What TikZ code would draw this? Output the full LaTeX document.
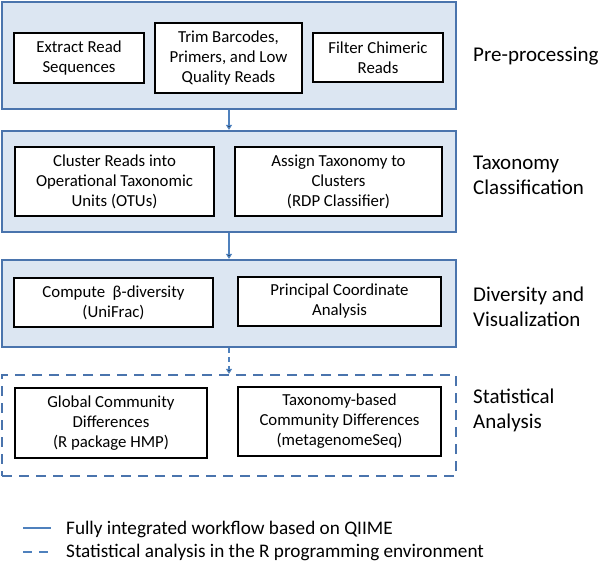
\documentclass[tikz,border=0pt]{standalone}
\usepackage{fontspec}
\setmainfont{Carlito}
\usetikzlibrary{arrows.meta}
\definecolor{stagefill}{HTML}{DCE6F2}
\definecolor{stageline}{HTML}{4A74AD}
\definecolor{flowline}{HTML}{4F81BD}
\begin{document}
\begin{tikzpicture}[x=1pt, y=-1pt, stage node/.style={rectangle,draw=stageline,fill=stagefill,line width=2.2pt,minimum width=454pt,inner sep=0pt}, r node/.style={rectangle,draw=stageline,line width=2.2pt,dash pattern=on 10pt off 7pt,minimum width=454pt,inner sep=0pt}, task node/.style={rectangle,draw=black,fill=white,line width=1.4pt,align=center,inner sep=0pt}, label node/.style={anchor=west,align=left,inner sep=0pt,font=\fontsize{21}{25}\selectfont}, flow/.style={draw=flowline,line width=1.3pt,-{Triangle[width=6pt,length=5pt]}}]
\useasboundingbox (0,0) rectangle (600,564);
\begin{scope}
\node[stage node, minimum height=107pt] (pre) at (229,55.5) {};
\node[stage node, minimum height=101pt] (tax) at (229,181.5) {};
\node[stage node, minimum height=87pt] (div) at (229,303.5) {};
\node[r node, minimum height=101pt] (stat) at (229,425.5) {};
\end{scope}
\begin{scope}[every node/.style={font=\fontsize{16.8}{20}\selectfont}]
\node[task node, minimum width=130pt, minimum height=50pt] (ext) at (79,58) {Extract Read\\Sequences};
\node[task node, minimum width=147pt, minimum height=70pt] (trim) at (228.5,58) {Trim Barcodes,\\Primers, and Low\\Quality Reads};
\node[task node, minimum width=130pt, minimum height=49pt] (chim) at (378,57.5) {Filter Chimeric\\Reads};
\node[task node, minimum width=199pt, minimum height=69pt] (otu) at (114.5,181.5) {Cluster Reads into\\Operational Taxonomic\\Units (OTUs)};
\node[task node, minimum width=207pt, minimum height=69pt] (rdp) at (338.5,181.5) {Assign Taxonomy to\\Clusters\\(RDP Classifier)};
\node[task node, minimum width=199pt, minimum height=49pt] (beta) at (113.5,302.5) {Compute~~β-diversity\\(UniFrac)};
\node[task node, minimum width=203pt, minimum height=49pt] (pcoa) at (339.5,301.5) {Principal Coordinate\\Analysis};
\node[task node, minimum width=192pt, minimum height=70pt] (hmp) at (111,423) {Global Community\\Differences\\(R package HMP)};
\node[task node, minimum width=203pt, minimum height=69pt] (mgs) at (339.5,421.5) {Taxonomy-based\\Community Differences\\(metagenomeSeq)};
\end{scope}
\begin{scope}
\node[label node] (lpre) at (473,56) {Pre-processing};
\node[label node] (ltax) at (473,175) {Taxonomy\\Classification};
\node[label node] (ldiv) at (473,307) {Diversity and\\Visualization};
\node[label node] (lstat) at (473,410) {Statistical\\Analysis};
\end{scope}
\begin{scope}
\draw[flow] (pre) edge (tax);
\draw[flow] (tax) edge (div);
\draw[flow, dash pattern=on 5pt off 4pt] (div) edge (stat);
\end{scope}
% legend
\begin{scope}[every node/.style={anchor=west,inner sep=0pt,font=\fontsize{19.2}{23}\selectfont}]
\coordinate (sol0) at (23,528);
\coordinate (sol1) at (51,528);
\coordinate (das0) at (23,552);
\coordinate (das1) at (51,552);
\draw[draw=flowline, line width=1.8pt] (sol0) -- (sol1);
\draw[draw=flowline, line width=1.8pt, dash pattern=on 9pt off 7pt] (das0) -- (das1);
\node (lsol) at (66,529) {Fully integrated workflow based on QIIME};
\node (ldas) at (66,552) {Statistical analysis in the R programming environment};
\end{scope}
\end{tikzpicture}
\end{document}
